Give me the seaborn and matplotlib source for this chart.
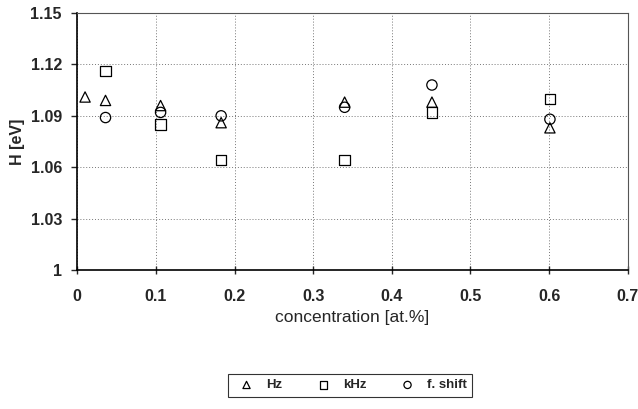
import seaborn as sns
import matplotlib.pyplot as plt
import pandas as pd

# values
hz_x = [0.01, 0.036, 0.106, 0.183, 0.34, 0.451, 0.601]
hz_y = [1.101, 1.099, 1.096, 1.086, 1.098, 1.098, 1.083]

khz_x = [0.036, 0.106, 0.183, 0.34, 0.451, 0.601]
khz_y = [1.116, 1.085, 1.064, 1.064, 1.092, 1.100]

fshift_x = [0.036, 0.106, 0.183, 0.34, 0.451, 0.601]
fshift_y = [1.089, 1.092, 1.090, 1.095, 1.108, 1.088]

x_ticks = [0, 0.1, 0.2, 0.3, 0.4, 0.5, 0.6, 0.7]
y_ticks = [1.0, 1.03, 1.06, 1.09, 1.12, 1.15]
y_labels = ['1', '1.03', '1.06', '1.09', '1.12', '1.15']

series = [
    ('Hz', hz_x, hz_y, '^'),
    ('kHz', khz_x, khz_y, 's'),
    ('f. shift', fshift_x, fshift_y, 'o'),
]

sns.set_style('white')
plt.rcParams['font.family'] = ['Liberation Sans', 'DejaVu Sans']

fig = plt.figure(figsize=(6.38, 4.09), dpi=100)
ax = fig.add_axes([0.121, 0.34, 0.863, 0.628])

for name, xs, ys, mk in series:
    df = pd.DataFrame({'x': xs, 'y': ys})
    sns.scatterplot(data=df, x='x', y='y', marker=mk, s=55, facecolors='none',
                    edgecolor='black', linewidth=0.9, label=name, ax=ax, zorder=3)

ax.set_xlim(0, 0.7)
ax.set_ylim(1.0, 1.15)
ax.set_xticks(x_ticks)
ax.set_xticklabels([f'{t:g}' for t in x_ticks], fontsize=11.5, fontweight='bold')
ax.set_yticks(y_ticks)
ax.set_yticklabels(y_labels, fontsize=11.5, fontweight='bold')
ax.tick_params(axis='x', direction='inout', length=6, width=1, pad=11, bottom=True)
ax.tick_params(axis='y', direction='out', length=4, width=1, pad=7, left=True)
ax.grid(True, color='#777777', linestyle=(0, (1, 2)), linewidth=0.7)

ax.set_xlabel('concentration [at.%]', fontsize=12.5, labelpad=4)
ax.set_ylabel('H [eV]', fontsize=11.5, fontweight='bold', labelpad=4)

for side in ['left', 'bottom']:
    ax.spines[side].set_color('black')
    ax.spines[side].set_linewidth(1.2)
for side in ['top', 'right']:
    ax.spines[side].set_color('#555555')
    ax.spines[side].set_linewidth(0.8)

ax.legend(loc='center', bbox_to_anchor=(0.549, 0.058), bbox_transform=fig.transFigure,
          ncol=3, frameon=True, fancybox=False, edgecolor='black', columnspacing=2.1,
          handletextpad=0.5, prop={'weight': 'bold', 'size': 9.5}, markerscale=0.7,
          borderpad=0.4)
ax.get_legend().get_frame().set_linewidth(0.8)

fig.savefig('out.png', dpi=100)
